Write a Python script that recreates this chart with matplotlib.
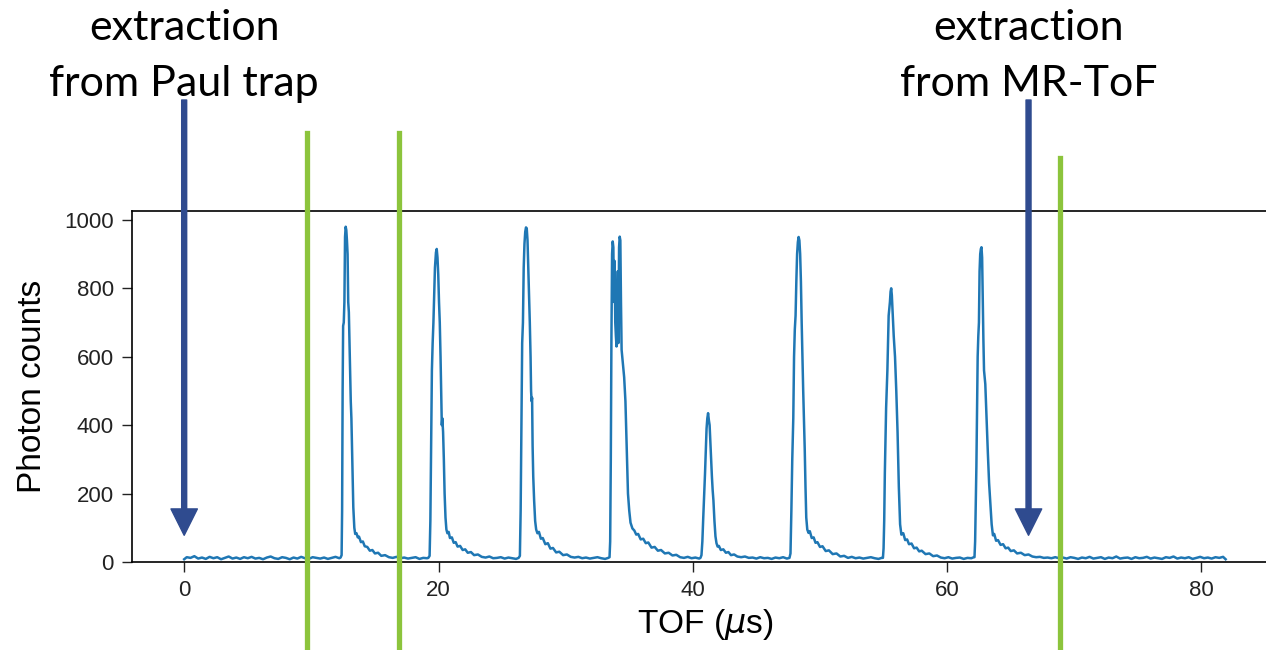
import matplotlib
matplotlib.use("Agg")
import matplotlib.pyplot as plt
from matplotlib import transforms

# TOF spectrum (TOF in us, photon counts)
base_t = [0, 0.2, 0.5, 0.8, 1.1, 1.4, 1.7, 2.0, 2.3, 2.6, 2.9, 3.2, 3.5, 3.8, 4.1, 4.4, 4.7, 5.0, 5.3, 5.6, 5.9,
          6.2, 6.5, 6.8, 7.1, 7.4, 7.7, 8.0, 8.3, 8.6, 8.9, 9.2, 9.5, 9.8, 10.1, 10.4, 10.7, 11.0, 11.3, 11.6, 11.9, 12.2]
base_c = [8, 14, 12, 17, 10, 13, 9, 15, 11, 14, 8, 12, 16, 10, 13, 9, 14, 11, 15, 10, 12,
          8, 13, 16, 11, 9, 14, 12, 8, 13, 10, 15, 11, 9, 14, 12, 10, 13, 9, 12, 15, 11]

peak1_t = [12.3, 12.38, 12.42, 12.46, 12.5, 12.55, 12.6, 12.65, 12.7, 12.75, 12.8, 12.85, 12.9, 12.95, 13.0, 13.05,
           13.1, 13.15, 13.2, 13.25, 13.3, 13.38, 13.45, 13.55, 13.65, 13.75, 13.9, 14.05, 14.2, 14.4, 14.6, 14.8,
           15.0, 15.25, 15.5, 15.8, 16.1, 16.4, 16.7, 17.0, 17.3, 17.6, 17.9, 18.2, 18.5, 18.8, 19.1]
peak1_c = [13, 20, 150, 500, 690, 700, 760, 950, 980, 970, 940, 900, 760, 730, 640, 560,
           470, 420, 330, 240, 160, 100, 82, 84, 72, 74, 58, 60, 46, 44, 33, 35,
           25, 27, 18, 20, 14, 12, 15, 11, 13, 10, 12, 14, 9, 12, 11]

peak2_t = [19.2, 19.3, 19.36, 19.42, 19.48, 19.54, 19.6, 19.66, 19.72, 19.8, 19.86, 19.92, 19.98, 20.04, 20.1, 20.16,
           20.22, 20.26, 20.3, 20.36, 20.42, 20.48, 20.55, 20.62, 20.7, 20.8, 20.9, 21.05, 21.2, 21.35, 21.5, 21.7,
           21.9, 22.1, 22.3, 22.55, 22.8, 23.1, 23.4, 23.7, 24.0, 24.3, 24.6, 24.9, 25.2, 25.5, 25.8, 26.1, 26.3]
peak2_c = [12, 18, 120, 350, 560, 640, 700, 780, 860, 905, 915, 890, 840, 760, 700, 600,
           480, 400, 420, 380, 300, 200, 130, 95, 84, 88, 70, 72, 56, 58, 45, 47,
           35, 37, 27, 29, 20, 22, 15, 13, 16, 11, 12, 14, 10, 13, 11, 9, 12]

peak3_t = [26.4, 26.46, 26.52, 26.58, 26.64, 26.7, 26.76, 26.82, 26.88, 26.94, 27.0, 27.06, 27.12, 27.18, 27.24, 27.28,
           27.32, 27.36, 27.4, 27.45, 27.52, 27.6, 27.68, 27.78, 27.9, 28.05, 28.2, 28.4, 28.6, 28.8, 29.0, 29.25,
           29.5, 29.8, 30.1, 30.4, 30.7, 31.0, 31.3, 31.6, 31.9, 32.2, 32.5, 32.8, 33.1, 33.35]
peak3_c = [18, 150, 400, 640, 700, 860, 930, 965, 978, 975, 940, 860, 790, 700, 600, 500,
           470, 480, 340, 250, 180, 120, 95, 84, 88, 68, 70, 52, 55, 39, 41, 28,
           30, 20, 22, 15, 13, 15, 11, 13, 10, 12, 14, 11, 9, 12]

# double peak around 34 us
peak4_t = [33.45, 33.5, 33.55, 33.6, 33.65, 33.7, 33.75, 33.8, 33.85, 33.9, 33.95, 34.0, 34.05, 34.1, 34.15, 34.2,
           34.25, 34.3, 34.35, 34.4, 34.5, 34.6, 34.7, 34.8, 34.9, 35.0, 35.1, 35.25, 35.4, 35.55, 35.7, 35.9, 36.1,
           36.3, 36.5, 36.75, 37.0, 37.25, 37.5, 37.8, 38.1, 38.4, 38.7, 39.0, 39.3, 39.6, 39.9, 40.2, 40.5]
peak4_c = [14, 60, 300, 660, 900, 937, 920, 760, 880, 700, 660, 630, 700, 850, 640, 920,
           951, 940, 760, 620, 580, 540, 470, 330, 200, 150, 115, 98, 92, 80, 82, 66, 68,
           55, 57, 42, 44, 33, 35, 25, 27, 19, 21, 14, 12, 15, 11, 13, 10]

peak5_t = [40.6, 40.68, 40.75, 40.82, 40.9, 40.96, 41.02, 41.08, 41.14, 41.2, 41.26, 41.32, 41.38, 41.44, 41.5, 41.56,
           41.62, 41.7, 41.78, 41.86, 41.95, 42.05, 42.2, 42.4, 42.6, 42.8, 43.0, 43.25, 43.5, 43.8, 44.1, 44.4,
           44.7, 45.0, 45.3, 45.6, 45.9, 46.2, 46.5, 46.8, 47.1, 47.4]
peak5_c = [12, 20, 60, 130, 200, 260, 330, 390, 420, 435, 415, 400, 350, 300, 250, 210,
           180, 120, 75, 55, 45, 47, 35, 37, 27, 29, 20, 22, 16, 14, 16, 12,
           13, 10, 14, 11, 12, 9, 13, 11, 14, 10]

peak6_t = [47.6, 47.68, 47.75, 47.82, 47.9, 47.96, 48.02, 48.08, 48.14, 48.2, 48.26, 48.32, 48.38, 48.44, 48.5, 48.56,
           48.62, 48.68, 48.74, 48.8, 48.86, 48.92, 49.0, 49.1, 49.2, 49.35, 49.5, 49.65, 49.8, 50.0, 50.2, 50.45,
           50.7, 51.0, 51.3, 51.6, 51.9, 52.2, 52.5, 52.8, 53.1, 53.4, 53.7, 54.0, 54.3, 54.6, 54.85]
peak6_c = [12, 25, 150, 300, 420, 600, 680, 720, 820, 900, 935, 950, 940, 900, 820, 700,
           600, 500, 420, 330, 220, 130, 95, 85, 90, 70, 72, 56, 58, 44, 46, 32,
           34, 23, 25, 16, 18, 12, 15, 11, 13, 10, 12, 14, 11, 9, 12]

peak7_t = [54.95, 55.0, 55.05, 55.1, 55.2, 55.3, 55.4, 55.5, 55.55, 55.6, 55.65, 55.7, 55.75, 55.8, 55.9, 56.0,
           56.1, 56.2, 56.3, 56.4, 56.55, 56.7, 56.85, 57.0, 57.2, 57.4, 57.6, 57.8, 58.0, 58.3, 58.6, 58.9, 59.2,
           59.5, 59.8, 60.1, 60.4, 60.7, 61.0, 61.3, 61.6, 61.9, 62.1]
peak7_c = [12, 40, 120, 260, 450, 560, 720, 760, 790, 800, 780, 740, 700, 660, 600, 500,
           380, 220, 110, 80, 84, 64, 66, 52, 54, 40, 42, 31, 33, 23, 25, 17, 19,
           13, 11, 14, 10, 12, 13, 9, 12, 11, 14]

peak8_t = [62.15, 62.2, 62.25, 62.3, 62.35, 62.4, 62.45, 62.5, 62.55, 62.6, 62.65, 62.7, 62.75, 62.8, 62.85, 62.9,
           63.0, 63.1, 63.2, 63.3, 63.4, 63.5, 63.6, 63.7, 63.85, 64.0, 64.2, 64.4, 64.6, 64.8, 65.0, 65.25, 65.5,
           65.8, 66.1, 66.4, 66.7, 67.0, 67.3, 67.6, 67.9, 68.2]
peak8_c = [14, 60, 180, 280, 450, 600, 660, 700, 850, 900, 915, 920, 890, 760, 650, 560,
           520, 420, 320, 230, 170, 110, 78, 82, 62, 64, 50, 52, 40, 42, 32, 34, 25,
           27, 20, 22, 16, 14, 15, 12, 13, 11]

tail_t = [68.5, 68.8, 69.1, 69.4, 69.7, 70.0, 70.3, 70.6, 70.9, 71.2, 71.5, 71.8, 72.1, 72.4, 72.7, 73.0, 73.3,
          73.6, 73.9, 74.2, 74.5, 74.8, 75.1, 75.4, 75.7, 76.0, 76.3, 76.6, 76.9, 77.2, 77.5, 77.8, 78.1, 78.4,
          78.7, 79.0, 79.3, 79.6, 79.9, 80.2, 80.5, 80.8, 81.1, 81.4, 81.7, 81.9]
tail_c = [14, 11, 13, 10, 14, 12, 9, 13, 11, 15, 10, 12, 14, 9, 13, 11, 16,
          10, 12, 13, 9, 14, 11, 12, 15, 10, 13, 11, 9, 14, 12, 16, 10, 13,
          11, 14, 9, 12, 15, 11, 13, 10, 14, 12, 15, 8]

tof = base_t + peak1_t + peak2_t + peak3_t + peak4_t + peak5_t + peak6_t + peak7_t + peak8_t + tail_t
counts = base_c + peak1_c + peak2_c + peak3_c + peak4_c + peak5_c + peak6_c + peak7_c + peak8_c + tail_c

# gate lines (green) and extraction times (arrows), in us
gate_lines = [9.67, 16.9, 68.85]
gate_tops = [0.795, 0.795, 0.757]
extraction_times = [0.0, 66.4]
extraction_labels = ["extraction\nfrom Paul trap", "extraction\nfrom MR-ToF"]

GREEN = "#8cc43c"
NAVY = "#2f4b8f"

plt.rcParams["font.family"] = ["Liberation Sans", "DejaVu Sans"]

fig = plt.figure(figsize=(12.66, 6.5), dpi=100)
ax = fig.add_axes([0.1043, 0.1354, 0.906, 0.54])

ax.plot(tof, counts, color="#1f77b4", lw=1.8)
ax.set_xlim(-4.1, 86.1)
ax.set_ylim(0, 1026)
ax.set_xticks([0, 20, 40, 60, 80])
ax.set_yticks([0, 200, 400, 600, 800, 1000])
ax.tick_params(labelsize=16, length=7, width=1, pad=6, colors="#222222")
ax.set_xlabel(r"TOF ($\mu$s)", fontsize=24, labelpad=4)
ax.set_ylabel("Photon counts", fontsize=24, labelpad=12)
for s in ax.spines.values():
    s.set_linewidth(1.2)

mixed = transforms.blended_transform_factory(ax.transData, fig.transFigure)
for x, top in zip(gate_lines, gate_tops):
    ax.plot([x, x], [0, top], color=GREEN, lw=3.8, transform=mixed, clip_on=False, zorder=5)

for x, lab in zip(extraction_times, extraction_labels):
    ax.annotate("", xy=(x, 78), xycoords="data",
                xytext=(x, 1 - 100 / 650), textcoords=("data", "figure fraction"),
                arrowprops=dict(arrowstyle="simple,head_width=19,head_length=19,tail_width=3.6",
                                mutation_scale=1, color=NAVY, shrinkA=0, shrinkB=0),
                annotation_clip=False, zorder=6)
    first, second = lab.split("\n")
    xf = mixed.transform((x, 0))[0] / fig.bbox.width
    fig.text(xf, 1 - 40 / 650, first, ha="center", va="baseline", fontsize=31, family="Lato")
    fig.text(xf, 1 - 96 / 650, second, ha="center", va="baseline", fontsize=31, family="Lato")

fig.savefig("out.png", dpi=100)
